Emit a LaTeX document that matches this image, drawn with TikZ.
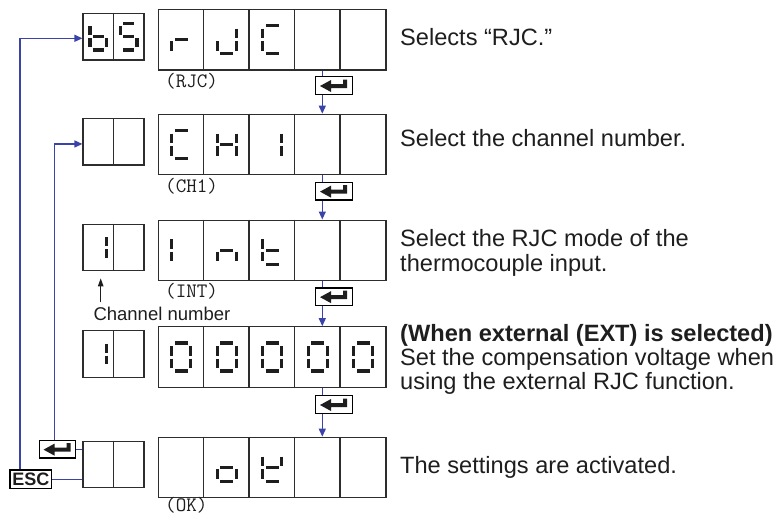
\documentclass[tikz,border=0pt]{standalone}
\usepackage{fontspec}
\setmainfont{Liberation Sans}
\usetikzlibrary{arrows.meta}
\definecolor{flowblue}{RGB}{58,68,168}
\definecolor{ink}{RGB}{30,30,30}
\definecolor{frame}{RGB}{45,45,45}
\def\dhw{9.5}\def\dhh{14}\def\dgp{3}\def\dmg{1.5}
\newcommand\segXa{\draw[seg] (-\dhw+\dgp,-\dhh) -- (\dhw-\dgp,-\dhh);}
\newcommand\segXb{\draw[seg] (\dhw,-\dhh+\dgp) -- (\dhw,-\dmg);}
\newcommand\segXc{\draw[seg] (\dhw,\dmg) -- (\dhw,\dhh-\dgp);}
\newcommand\segXd{\draw[seg] (-\dhw+\dgp,\dhh) -- (\dhw-\dgp,\dhh);}
\newcommand\segXe{\draw[seg] (-\dhw,\dmg) -- (-\dhw,\dhh-\dgp);}
\newcommand\segXf{\draw[seg] (-\dhw,-\dhh+\dgp) -- (-\dhw,-\dmg);}
\newcommand\segXg{\draw[seg] (-\dhw+\dgp,0) -- (\dhw-\dgp,0);}
\newcommand\dgt[3]{\begin{scope}[shift={(#1,#2)}]\foreach \q in {#3}{\csname segX\q\endcsname}\end{scope}}
\tikzset{
 seg/.style={line width=3.2pt, draw=ink},
 mainbox/.style={draw=frame, line width=1.2pt, minimum width=227.5pt, minimum height=60.5pt, inner sep=0pt},
 smallbox/.style={draw=frame, line width=1.2pt, minimum width=61pt, minimum height=46.5pt, inner sep=0pt},
 cellline/.style={draw=frame, line width=1.2pt},
 enterkey/.style={draw=black, line width=1.4pt, fill=white, minimum width=36.5pt, minimum height=17.7pt, inner sep=0pt},
 esckey/.style={draw=black, line width=1.4pt, fill=white, minimum width=41.7pt, minimum height=18.3pt, inner sep=0pt, text=ink, font=\fontsize{18}{18}\selectfont\bfseries},
 flow/.style={draw=flowblue, line width=1.3pt},
 flowarrow/.style={flow, -{Triangle[length=8pt,width=7pt]}},
 chanarrow/.style={draw=ink, line width=1.1pt, -{Triangle[length=8pt,width=5.5pt]}},
 desc/.style={anchor=base west, inner sep=0pt, text=ink, font=\fontsize{23.6}{24}\selectfont},
 chan/.style={anchor=base west, inner sep=0pt, text=ink, font=\fontsize{18.5}{18.5}\selectfont},
 codelabel/.style={anchor=base west, inner sep=0pt, text=ink, font=\fontsize{20.5}{20.5}\ttfamily},
}
\begin{document}
\begin{tikzpicture}[x=1pt,y=-1pt]
\useasboundingbox (0,0) rectangle (782,515);
% main displays
\node[mainbox] (m1) at (272.25,39.65) {};
\node[mainbox] (m2) at (272.25,144.5) {};
\node[mainbox] (m3) at (272.25,250.35) {};
\node[mainbox] (m4) at (272.25,357) {};
\node[mainbox] (m5) at (272.25,467.5) {};
\foreach \i in {1,...,5}{
  \foreach \k in {1,2,3,4}{
    \draw[cellline] ([xshift=\k*45.5pt]m\i.north west) -- ([xshift=\k*45.5pt]m\i.south west);
  }
}
% small displays
\node[smallbox] (s1) at (113.5,36.65) {};
\node[smallbox] (s2) at (113.5,141.65) {};
\node[smallbox] (s3) at (113.5,247.5) {};
\node[smallbox] (s4) at (113.5,354) {};
\node[smallbox] (s5) at (113.5,464.35) {};
\foreach \i in {1,...,5}{\draw[cellline] (s\i.north) -- (s\i.south);}
% digits, main
\dgt{181.25}{39.65}{e,g}
\dgt{226.75}{39.65}{b,c,d,e}
\dgt{272.25}{39.65}{a,d,e,f}
\dgt{181.25}{144.5}{a,d,e,f}
\dgt{226.75}{144.5}{b,c,e,f,g}
\dgt{272.25}{144.5}{b,c}
\dgt{181.25}{250.35}{e,f}
\dgt{226.75}{250.35}{c,e,g}
\dgt{272.25}{250.35}{d,e,f,g}
\foreach \cx in {181.25,226.75,272.25,317.75,363.25}{\dgt{\cx}{357}{a,b,c,d,e,f}}
\dgt{226.75}{467.5}{c,d,e,g}
\dgt{272.25}{467.5}{b,d,e,f,g}
% digits, small
\begin{scope}
\def\dhw{8.3}\def\dhh{13.3}
\dgt{98.25}{36.65}{c,d,e,f,g}
\dgt{128.75}{36.65}{a,c,d,f,g}
\dgt{98.25}{247.5}{b,c}
\dgt{98.25}{354}{b,c}
\end{scope}
% enter keys
\node[enterkey] (k1) at (334,85.5) {};
\node[enterkey] (k2) at (334,191.15) {};
\node[enterkey] (k3) at (334,296.65) {};
\node[enterkey] (k4) at (334,404.5) {};
\node[enterkey] (kL) at (57.5,449.15) {};
\node[esckey] (esc) at (30.85,479.15) {ESC};
\foreach \k in {k1,k2,k3,k4,kL}{
  \begin{scope}[shift={(\k.center)}]
    \fill[ink] (-14,0.5) -- (-3,-5.5) -- (-3,-1.5) -- (9,-1.5) -- (9,-6) -- (13,-6) -- (13,2.5) -- (-3,2.5) -- (-3,6.5) -- cycle;
  \end{scope}
}
% flow down
\coordinate (ax) at (322.3,0);
\draw[flow] (m1.south -| ax) -- (k1.north -| ax);
\draw[flowarrow] (k1.south -| ax) -- (m2.north -| ax);
\draw[flow] (m2.south -| ax) -- (k2.north -| ax);
\draw[flowarrow] (k2.south -| ax) -- (m3.north -| ax);
\draw[flow] (m3.south -| ax) -- (k3.north -| ax);
\draw[flowarrow] (k3.south -| ax) -- (m4.north -| ax);
\draw[flow] (m4.south -| ax) -- (k4.north -| ax);
\draw[flowarrow] (k4.south -| ax) -- (m5.north -| ax);
% return paths
\coordinate (escx) at (20,0);
\coordinate (entx) at (54.3,0);
\draw[flowarrow] (esc.north -| escx) |- ([yshift=-1.65pt]s1.west);
\draw[flowarrow] (kL.north -| entx) |- ([yshift=-2.3pt]s2.west);
\draw[flow] (esc.east) -- (esc.east -| s5.west);
\draw[flow] (kL.east) -- (kL.east -| s5.west);
% labels under displays
\node[codelabel] (l1) at (165,87) {(RJC)};
\node[codelabel] (l2) at (165,192) {(CH1)};
\node[codelabel] (l3) at (165,297.5) {(INT)};
\node[codelabel] (l5) at (165,511.5) {(OK)};
% channel number
\node[chan] (chn) at (93.3,320) {Channel number};
\coordinate (chx) at (100.7,0);
\draw[chanarrow] ([yshift=-31pt]s3.south -| chx) -- ([yshift=-7pt]s3.south -| chx);
% descriptions
\node[desc] (t1) at (400,45) {Selects “RJC.”};
\node[desc] (t2) at (400,146) {Select the channel number.};
\node[desc] (t3a) at (400,246.5) {Select the RJC mode of the};
\node[desc] (t3b) at (400,271.5) {thermocouple input.};
\node[desc, font=\fontsize{23.6}{24}\selectfont\bfseries] (t4a) at (400,341) {(When external (EXT) is selected)};
\node[desc] (t4b) at (400,365) {Set the compensation voltage when};
\node[desc] (t4c) at (400,389) {using the external RJC function.};
\node[desc] (t5) at (400,473) {The settings are activated.};
\end{tikzpicture}
\end{document}
